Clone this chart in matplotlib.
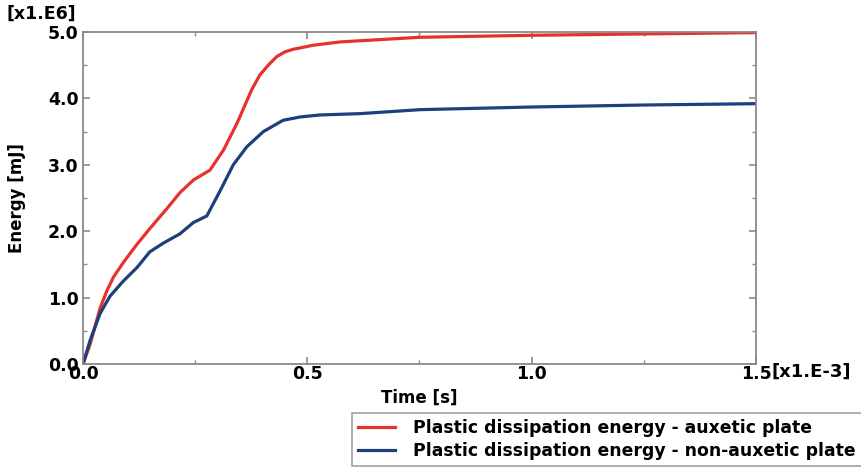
import matplotlib
matplotlib.use("Agg")
import matplotlib.pyplot as plt
from matplotlib.ticker import MultipleLocator, FormatStrFormatter

# Time values in units of 1e-3 s, energy in units of 1e6 mJ
time_auxetic = [0, 0.016, 0.038, 0.053, 0.068, 0.090, 0.120, 0.149, 0.187, 0.216,
                0.246, 0.283, 0.313, 0.343, 0.376, 0.394, 0.413, 0.432, 0.450,
                0.469, 0.484, 0.513, 0.573, 0.751, 1.0, 1.25, 1.5]
energy_auxetic = [0, 0.30, 0.84, 1.10, 1.31, 1.53, 1.80, 2.04, 2.34, 2.58,
                  2.77, 2.92, 3.22, 3.62, 4.13, 4.35, 4.50, 4.63, 4.70,
                  4.74, 4.76, 4.80, 4.85, 4.92, 4.95, 4.97, 4.99]

time_non_auxetic = [0, 0.016, 0.038, 0.060, 0.090, 0.120, 0.149, 0.179, 0.216,
                    0.246, 0.276, 0.305, 0.335, 0.365, 0.402, 0.446, 0.484,
                    0.528, 0.617, 0.751, 1.0, 1.25, 1.5]
energy_non_auxetic = [0, 0.36, 0.76, 1.02, 1.25, 1.45, 1.69, 1.82, 1.96,
                      2.13, 2.23, 2.60, 3.00, 3.27, 3.50, 3.67, 3.72,
                      3.75, 3.77, 3.83, 3.87, 3.90, 3.92]

labels = ["Plastic dissipation energy - auxetic plate",
          "Plastic dissipation energy - non-auxetic plate"]
colors = ["#e8312b", "#1d3f7c"]

plt.rcParams["font.family"] = ["DejaVu Sans"]
plt.rcParams["font.weight"] = "bold"

fig = plt.figure(figsize=(8.61, 4.70), dpi=100)
ax = fig.add_axes([0.0964, 0.2255, 0.7816, 0.7065])

l1, = ax.plot(time_auxetic, energy_auxetic, color=colors[0], lw=2.3,
              solid_joinstyle="round")
l2, = ax.plot(time_non_auxetic, energy_non_auxetic, color=colors[1], lw=2.3,
              solid_joinstyle="round")

ax.set_xlim(0, 1.5)
ax.set_ylim(0, 5.0)
ax.xaxis.set_major_locator(MultipleLocator(0.5))
ax.xaxis.set_minor_locator(MultipleLocator(0.25))
ax.yaxis.set_major_locator(MultipleLocator(1.0))
ax.yaxis.set_minor_locator(MultipleLocator(0.5))
ax.xaxis.set_major_formatter(FormatStrFormatter("%.1f"))
ax.yaxis.set_major_formatter(FormatStrFormatter("%.1f"))

for s in ax.spines.values():
    s.set_color("#8a8a8a")
    s.set_linewidth(1.3)

ax.tick_params(which="both", direction="in", top=True, right=True,
               color="#8a8a8a", labelsize=12.5)
ax.tick_params(axis="x", pad=1)
ax.tick_params(axis="y", pad=3)
ax.tick_params(which="major", length=5, width=1.2)
ax.tick_params(which="minor", length=3, width=1.0)
for lab in ax.get_xticklabels() + ax.get_yticklabels():
    lab.set_fontweight("bold")

ax.set_xlabel("Time [s]", fontsize=12, fontweight="bold", labelpad=4)
ax.set_ylabel("Energy [mJ]", fontsize=12, fontweight="bold", labelpad=16)

fig.text(0.896, 0.2085, "[x1.E-3]", fontsize=13, fontweight="bold",
         ha="left", va="center")
fig.text(0.008, 0.970, "[x1.E6]", fontsize=12.5, fontweight="bold",
         ha="left", va="center")

leg = fig.legend([l1, l2], labels, loc="upper left",
                 bbox_to_anchor=(0.4088, 0.1213), borderaxespad=0,
                 frameon=True, fancybox=False, handlelength=2.15,
                 handletextpad=1.05, borderpad=0.35, labelspacing=0.3,
                 prop={"weight": "bold", "size": 12.4})
leg.get_frame().set_edgecolor("#8a8a8a")
leg.get_frame().set_linewidth(1.2)

fig.savefig("out.png", dpi=100)
